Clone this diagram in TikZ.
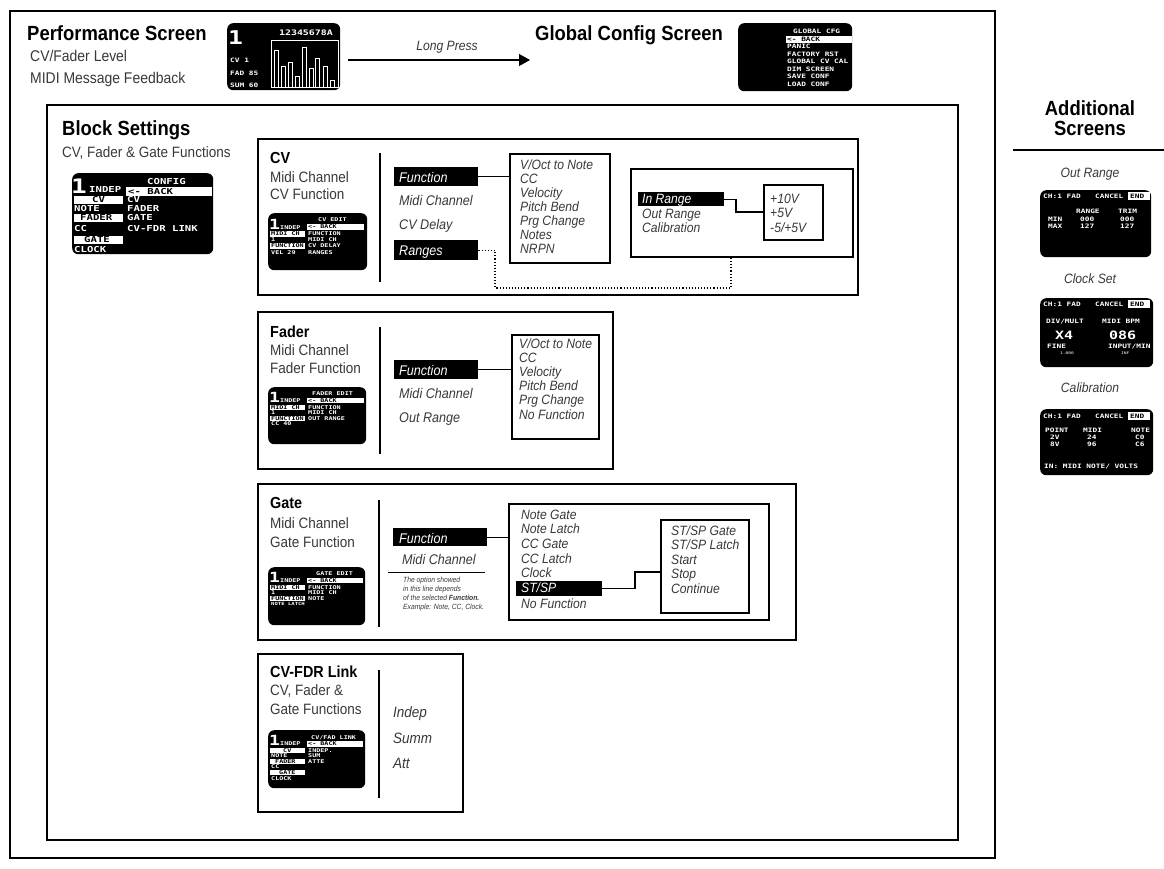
\documentclass[tikz,border=0pt]{standalone}
\usepackage{fontspec}
\setmainfont{Liberation Sans}[FakeStretch=0.9]
\newfontfamily\scrw{DejaVu Sans Mono}[FakeStretch=1.3]
\usetikzlibrary{arrows.meta,calc}
\definecolor{lt}{gray}{0.22}
\tikzset{
  frame/.style={draw=black, line width=1.4pt},
  optbox/.style={draw=black, line width=1.6pt},
  scr/.style={fill=black, rounded corners=6pt},
  hl/.style={fill=black},
  st/.style={inner sep=0pt, anchor=base west, text=white},
  sa/.style={st, font=\fontsize{5.2}{5.2}\scrw\bfseries},
  sab/.style={sa, text=black},
  sg/.style={st, font=\fontsize{6}{6}\scrw\bfseries},
  sgb/.style={sg, text=black},
  sc/.style={st, font=\fontsize{8.2}{8.2}\scrw\bfseries},
  scb/.style={sc, text=black},
  big1/.style={st, font=\fontsize{14}{14}\scrw\bfseries},
  ttl/.style={inner sep=0pt, anchor=base west, font=\fontsize{20.5}{20.5}\selectfont\bfseries},
  bttl/.style={inner sep=0pt, anchor=base west, font=\fontsize{16}{16}\selectfont\bfseries},
  sub/.style={inner sep=0pt, anchor=base west, font=\fontsize{15}{15}\selectfont, text=lt},
  it/.style={inner sep=0pt, anchor=base west, font=\fontsize{13.5}{13.5}\selectfont\itshape, text=lt},
  itm/.style={it, font=\fontsize{14}{14}\selectfont\itshape},
  itw/.style={it, text=white},
  itmw/.style={itm, text=white},
  conn/.style={draw=black, line width=1.1pt},
  dotc/.style={draw=black, line width=1.1pt, dotted},
  divl/.style={draw=black, line width=1.2pt},
}
\begin{document}
\begin{tikzpicture}[x=1pt,y=-1pt]
\useasboundingbox (0,0) rectangle (1164,868);
% outer frames
\draw[frame] (10,11) rectangle (995,858);
\draw[frame] (47,105) rectangle (958,840);

% ---------- top row ----------
\node[ttl] (perfT) at (27,40) {Performance Screen};
\node[sub, font=\fontsize{15.5}{15.5}\selectfont] (perfS1) at (30,61) {CV/Fader Level};
\node[sub, font=\fontsize{15.5}{15.5}\selectfont] (perfS2) at (30,83) {MIDI Message Feedback};
\node[scr, minimum width=113pt, minimum height=67pt, anchor=north west] (perf) at (227,23) {};
\node[big1, font=\fontsize{19}{19}\scrw\bfseries] at (228,44) {1};
\node[st, font=\fontsize{7.6}{7.6}\scrw\bfseries] at (279,35) {12345678A};
\draw[white, line width=0.7pt] (271,40) rectangle (338,87);
\foreach \xx/\tt in {274/50,281/66,288/62,295/76,302/47,309/68,315/58,323/66,330/80}
  \draw[white, line width=0.7pt] (\xx,87) rectangle (\xx+4,\tt);
\node[sg] at (230,62) {CV 1};
\node[sg] at (230,75) {FAD 85};
\node[sg] at (230,87) {SUM 60};

\node[ttl] (globT) at (535,40) {Global Config Screen};
\node[scr, minimum width=114pt, minimum height=68pt, anchor=north west] (glob) at (738,23) {};
\fill[white] (786,35.5) rectangle (852,42.5);
\node[sg] at (793,33) {GLOBAL CFG};
\node[sgb] at (787,41) {<- BACK};
\node[sg] at (787,48.5) {PANIC};
\node[sg] at (787,56) {FACTORY RST};
\node[sg] at (787,63.5) {GLOBAL CV CAL};
\node[sg] at (787,71) {DIM SCREEN};
\node[sg] at (787,78.5) {SAVE CONF};
\node[sg] at (787,86) {LOAD CONF};

\coordinate (arrS) at (348,60);
\coordinate (arrE) at (530,60);
\draw[conn, -{Triangle[length=11pt,width=12pt]}] (arrS) -- (arrE);
\node[it, anchor=base] (lp) at (447,50) {Long Press};

% ---------- Additional screens ----------
\node[inner sep=0pt, font=\fontsize{20.5}{20}\selectfont\bfseries, align=center, anchor=north] (addT) at (1090,100) {Additional\\Screens};
\coordinate (addL) at (1013,150);
\coordinate (addR) at (1164,150);
\draw[line width=1.2pt] (addL) -- (addR);

\node[it, anchor=base] (oR) at (1090,177) {Out Range};
\node[scr, minimum width=111pt, minimum height=67pt, anchor=north west] (oRs) at (1040,190) {};
\node[sg] at (1043,198) {CH:1 FAD};
\node[sg] at (1095,198) {CANCEL};
\fill[white] (1128,192) rectangle (1150,199.5);
\node[sgb] at (1130,198) {END};
\node[sg] at (1076,213) {RANGE};
\node[sg] at (1118,213) {TRIM};
\node[sg] at (1048,221) {MIN};
\node[sg] at (1080,221) {000};
\node[sg] at (1120,221) {000};
\node[sg] at (1048,228.5) {MAX};
\node[sg] at (1080,228.5) {127};
\node[sg] at (1120,228.5) {127};

\node[it, anchor=base] (cS) at (1090,283) {Clock Set};
\node[scr, minimum width=113pt, minimum height=69pt, anchor=north west] (cSs) at (1040,298) {};
\node[sg] at (1043,306) {CH:1 FAD};
\node[sg] at (1095,306) {CANCEL};
\fill[white] (1128,300) rectangle (1150,307.5);
\node[sgb] at (1130,306) {END};
\node[sg] at (1046,323) {DIV/MULT};
\node[sg] at (1102,323) {MIDI BPM};
\node[st, font=\fontsize{11.5}{11.5}\scrw\bfseries] at (1055,339) {X4};
\node[st, font=\fontsize{11.5}{11.5}\scrw\bfseries] at (1109,339) {086};
\node[sg] at (1047,348) {FINE};
\node[sg] at (1108,348) {INPUT/MIN};
\node[st, font=\fontsize{3.5}{3.5}\scrw] at (1060,354) {1.000};
\node[st, font=\fontsize{3.5}{3.5}\scrw] at (1121,354) {INF};

\node[it, anchor=base] (cal) at (1090,392) {Calibration};
\node[scr, minimum width=113pt, minimum height=66pt, anchor=north west] (cals) at (1040,409) {};
\node[sg] at (1043,418) {CH:1 FAD};
\node[sg] at (1095,418) {CANCEL};
\fill[white] (1128,412) rectangle (1150,419.5);
\node[sgb] at (1130,418) {END};
\node[sg] at (1045,432) {POINT};
\node[sg] at (1083,432) {MIDI};
\node[sg] at (1131,432) {NOTE};
\node[sg] at (1050,439) {2V};
\node[sg] at (1087,439) {24};
\node[sg] at (1135,439) {C0};
\node[sg] at (1050,446) {8V};
\node[sg] at (1087,446) {96};
\node[sg] at (1135,446) {C6};
\node[sg] at (1044,468) {IN: MIDI NOTE/ VOLTS};

% ---------- Block settings ----------
\node[ttl] (bsT) at (62,135) {Block Settings};
\node[sub] (bsS) at (62,157) {CV, Fader \& Gate Functions};
\node[scr, minimum width=141pt, minimum height=81pt, anchor=north west] (cfg) at (72,173) {};
\node[big1, font=\fontsize{20}{20}\scrw\bfseries] at (71,193) {1};
\node[sc] at (89,192) {INDEP};
\node[sc] at (147,184) {CONFIG};
\fill[white] (126,187) rectangle (212,195.5);
\node[scb] at (128,194) {<- BACK};
\fill[white] (74,196) rectangle (123,203.5);
\node[scb] at (92,202.5) {CV};
\node[sc] at (127,202.5) {CV};
\node[sc] at (74,211) {NOTE};
\node[sc] at (127,211) {FADER};
\fill[white] (74,214) rectangle (123,221.5);
\node[scb] at (80,220.5) {FADER};
\node[sc] at (127,220.5) {GATE};
\node[sc] at (74,231) {CC};
\node[sc] at (127,231) {CV-FDR LINK};
\fill[white] (74,236) rectangle (123,243.5);
\node[scb] at (84,242.5) {GATE};
\node[sc] at (74,252) {CLOCK};

% ---------- CV box ----------
\draw[frame] (258,139) rectangle (858,295);
\node[bttl] (cvT) at (270,163) {CV};
\node[sub] at (270,182) {Midi Channel};
\node[sub] at (270,199) {CV Function};
\node[scr, minimum width=99pt, minimum height=57pt, anchor=north west] (cvs) at (268,213) {};
\node[big1] at (269,229) {1};
\node[sa] at (280,229) {INDEP};
\node[sa] at (318,221) {CV EDIT};
\fill[white] (307,223.5) rectangle (364,229.5);
\node[sab] at (308,228.5) {<- BACK};
\fill[white] (270,231) rectangle (305,236.5);
\node[sab] at (271,235.5) {MIDI CH};
\node[sa] at (308,235.5) {FUNCTION};
\node[sa] at (271,241.5) {1};
\node[sa] at (308,241.5) {MIDI CH};
\fill[white] (270,243) rectangle (305,248.5);
\node[sab] at (271,247.5) {FUNCTION};
\node[sa] at (308,247.5) {CV DELAY};
\node[sa] at (271,254) {VEL 29};
\node[sa] at (308,254) {RANGES};
\draw[divl] (380,153) -- (380,282);

\node[hl, minimum width=84pt, minimum height=19pt, anchor=north west, inner sep=0pt] (cvF) at (394,167) {};
\node[itmw] at (399,182) {Function};
\node[itm] at (399,205) {Midi Channel};
\node[itm] at (399,229) {CV Delay};
\node[hl, minimum width=84pt, minimum height=20pt, anchor=north west, inner sep=0pt] (cvR) at (394,240) {};
\node[itmw] at (399,255) {Ranges};

\node[optbox, minimum width=100pt, minimum height=109pt, anchor=north west, inner sep=0pt] (cvO) at (509,153) {};
\foreach \t [count=\i from 0] in {V/Oct to Note,CC,Velocity,Pitch Bend,Prg Change,Notes,NRPN}
  \node[it] at (520,{169+14*\i}) {\t};
\draw[conn] (cvF.east) -- (cvF.east -| cvO.west);

\node[optbox, minimum width=222pt, minimum height=88pt, anchor=north west, inner sep=0pt] (rng) at (630,168) {};
\node[hl, minimum width=86pt, minimum height=14pt, anchor=north west, inner sep=0pt] (inR) at (638,192) {};
\node[itw] at (642,203) {In Range};
\node[it] at (642,218) {Out Range};
\node[it] at (642,232) {Calibration};
\node[optbox, minimum width=59pt, minimum height=55pt, anchor=north west, inner sep=0pt] (vals) at (763,184) {};
\node[it] at (770,203) {+10V};
\node[it] at (770,217) {+5V};
\node[it] at (770,232) {-5/+5V};
\coordinate (rk1) at (736,212);
\draw[conn] (inR.east) -| (rk1) -- (rk1 -| vals.west);
\coordinate (dotA) at (495,288);
\coordinate (dotB) at (731,288);
\draw[dotc] (cvR.east) -| (dotA) -- (dotB) -- (dotB |- rng.south);

% ---------- Fader box ----------
\draw[frame] (258,312) rectangle (613,469);
\node[bttl] (fdT) at (270,337) {Fader};
\node[sub] at (270,355) {Midi Channel};
\node[sub] at (270,373) {Fader Function};
\node[scr, minimum width=98pt, minimum height=57pt, anchor=north west] (fds) at (268,387) {};
\node[big1] at (269,402) {1};
\node[sa] at (280,402) {INDEP};
\node[sa] at (312,395) {FADER EDIT};
\fill[white] (307,397.5) rectangle (364,403);
\node[sab] at (308,402) {<- BACK};
\fill[white] (270,404.5) rectangle (305,410);
\node[sab] at (271,409) {MIDI CH};
\node[sa] at (308,409) {FUNCTION};
\node[sa] at (271,414.5) {1};
\node[sa] at (308,414.5) {MIDI CH};
\fill[white] (270,415.5) rectangle (305,421);
\node[sab] at (271,420) {FUNCTION};
\node[sa] at (308,420) {OUT RANGE};
\node[sa] at (271,425.5) {CC 40};
\draw[divl] (380,327) -- (380,454);
\node[hl, minimum width=84pt, minimum height=19pt, anchor=north west, inner sep=0pt] (fdF) at (394,360) {};
\node[itmw] at (399,375) {Function};
\node[itm] at (399,398) {Midi Channel};
\node[itm] at (399,422) {Out Range};
\node[optbox, minimum width=87pt, minimum height=104pt, anchor=north west, inner sep=0pt] (fdO) at (511,334) {};
\foreach \t [count=\i from 0] in {V/Oct to Note,CC,Velocity,Pitch Bend,Prg Change,No Function}
  \node[it] at (519,{348+14.2*\i}) {\t};
\draw[conn] (fdF.east) -- (fdF.east -| fdO.west);

% ---------- Gate box ----------
\draw[frame] (258,484) rectangle (796,640);
\node[bttl] (gtT) at (270,508) {Gate};
\node[sub] at (270,528) {Midi Channel};
\node[sub] at (270,547) {Gate Function};
\node[scr, minimum width=97pt, minimum height=58pt, anchor=north west] (gts) at (268,567) {};
\node[big1] at (269,582) {1};
\node[sa] at (280,582) {INDEP};
\node[sa] at (316,575) {GATE EDIT};
\fill[white] (307,577.5) rectangle (363,583);
\node[sab] at (308,582) {<- BACK};
\fill[white] (270,584.5) rectangle (305,590);
\node[sab] at (271,589) {MIDI CH};
\node[sa] at (308,589) {FUNCTION};
\node[sa] at (271,594.5) {1};
\node[sa] at (308,594.5) {MIDI CH};
\fill[white] (270,595.5) rectangle (305,601);
\node[sab] at (271,600) {FUNCTION};
\node[sa] at (308,600) {NOTE};
\node[st, font=\fontsize{4.3}{4.3}\scrw\bfseries] at (271,605.5) {NOTE LATCH};
\draw[divl] (379,500) -- (379,627);
\node[hl, minimum width=94pt, minimum height=18pt, anchor=north west, inner sep=0pt] (gtF) at (393,528) {};
\node[itmw] at (399,543) {Function};
\node[itm] at (402,564) {Midi Channel};
\coordinate (ulA) at (388,572);
\coordinate (ulB) at (485,572);
\draw[line width=1pt] (ulA) -- (ulB);
\foreach \t [count=\i from 0] in {The option showed,in this line depends,{of the selected \textbf{Function.}},{Example: Note, CC, Clock.}}
  \node[it, font=\fontsize{7.5}{7.5}\selectfont\itshape] at (403,{582+9*\i}) {\t};
\node[optbox, minimum width=260pt, minimum height=116pt, anchor=north west, inner sep=0pt] (gtO) at (508,503) {};
\node[hl, minimum width=86pt, minimum height=15pt, anchor=north west, inner sep=0pt] (stsp) at (516,581) {};
\foreach \t [count=\i from 0] in {Note Gate,Note Latch,CC Gate,CC Latch,Clock}
  \node[it] at (521,{519+14.7*\i}) {\t};
\node[itw] at (521,592.5) {ST/SP};
\node[it] at (521,608) {No Function};
\node[optbox, minimum width=88pt, minimum height=93pt, anchor=north west, inner sep=0pt] (gtS) at (660,519) {};
\foreach \t [count=\i from 0] in {ST/SP Gate,ST/SP Latch,Start,Stop,Continue}
  \node[it] at (671,{535+14.5*\i}) {\t};
\draw[conn] (gtF.east) -- (gtF.east -| gtO.west);
\coordinate (rk2) at (635,572);
\draw[conn] (stsp.east) -| (rk2) -- (rk2 -| gtS.west);

% ---------- CV-FDR Link ----------
\draw[frame] (258,654) rectangle (463,812);
\node[bttl] (lkT) at (270,677) {CV-FDR Link};
\node[sub] at (270,695) {CV, Fader \&};
\node[sub] at (270,714) {Gate Functions};
\node[scr, minimum width=97pt, minimum height=58pt, anchor=north west] (lks) at (268,730) {};
\node[big1] at (269,745.5) {1};
\node[sa] at (280,745) {INDEP};
\node[sa] at (311,739) {CV/FAD LINK};
\fill[white] (307,741) rectangle (363,746.5);
\node[sab] at (308,745.5) {<- BACK};
\fill[white] (270,747.5) rectangle (305,753);
\node[sab] at (283,752) {CV};
\node[sa] at (308,752) {INDEP.};
\node[sa] at (271,757.5) {NOTE};
\node[sa] at (308,757.5) {SUM};
\fill[white] (270,758.5) rectangle (305,764);
\node[sab] at (275,763) {FADER};
\node[sa] at (308,763) {ATTE};
\node[sa] at (271,768.5) {CC};
\fill[white] (270,769.5) rectangle (305,775);
\node[sab] at (279,774) {GATE};
\node[sa] at (271,780) {CLOCK};
\draw[divl] (379,670) -- (379,798);
\node[it, font=\fontsize{15}{15}\selectfont\itshape] at (393,717) {Indep};
\node[it, font=\fontsize{15}{15}\selectfont\itshape] at (393,743) {Summ};
\node[it, font=\fontsize{15}{15}\selectfont\itshape] at (393,768) {Att};
\end{tikzpicture}
\end{document}
